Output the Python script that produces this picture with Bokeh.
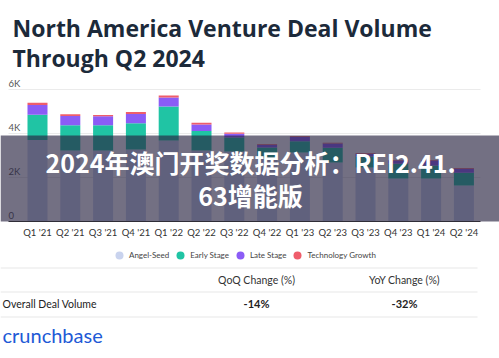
import math
from bokeh.plotting import figure
from bokeh.layouts import column
from bokeh.models import (Range1d, FixedTicker, Label, BoxAnnotation, Legend, LegendItem,
                          ColumnDataSource)
from bokeh.core.properties import value
from bokeh.embed import file_html
from bokeh.resources import INLINE

# ---------------- data ----------------
quarters = ["Q1 '21", "Q2 '21", "Q3 '21", "Q4 '21", "Q1 '22", "Q2 '22", "Q3 '22",
            "Q4 '22", "Q1 '23", "Q2 '23", "Q3 '23", "Q4 '23", "Q1 '24", "Q2 '24"]
angel_seed = [3.71, 3.23, 3.23, 3.27, 3.68, 3.23, 3.18, 2.86, 3.14, 2.68, 2.45, 1.95, 1.95, 1.64]
early_stage = [1.14, 1.14, 1.14, 1.20, 1.55, 0.88, 0.64, 0.50, 0.51, 0.67, 0.50, 0.67, 0.59, 0.58]
late_stage = [0.44, 0.42, 0.41, 0.42, 0.41, 0.30, 0.17, 0.12, 0.19, 0.20, 0.12, 0.15, 0.23, 0.18]
tech_growth = [0.11, 0.08, 0.06, 0.09, 0.09, 0.08, 0.05, 0.03, 0.04, 0.03, 0.03, 0.03, 0.03, 0.03]
series_names = ["Angel-Seed", "Early Stage", "Late Stage", "Technology Growth"]
series_colors = ["#c9d3ee", "#20c4a4", "#8b5cf6", "#ef5d6b"]
y_ticks = [0, 2, 4, 6]
y_tick_labels = ["0", "2K", "4K", "6K"]

title_lines = ["North America Venture Deal Volume", "Through Q2 2024"]
table_headers = ["QoQ Change (%)", "YoY Change (%)"]
table_row_label = "Overall Deal Volume"
table_values = ["-14%", "-32%"]
overlay_lines = ["2024年澳门开奖数据分析：REI2.41.", "63增能版"]

W = 499
TOP_H, CHART_H, BOT_H = 78, 167, 113
X_START, X_END = -1.128, 14.085          # visible x range (category index units)
PLOT_L, PLOT_R = -0.884, 13.506          # extent of grid / axis line


def bare(height):
    f = figure(width=W, height=height, x_range=Range1d(0, W), y_range=Range1d(0, height),
               output_backend="svg", toolbar_location=None, x_axis_location=None,
               y_axis_location=None, min_border=0)
    f.grid.visible = False
    f.outline_line_color = None
    return f


def lab(fig, x, y, text, **kw):
    fig.add_layout(Label(x=x, y=y, x_units="screen", y_units="screen", text=text, **kw))


# ---------------- title ----------------
top = bare(TOP_H)
for i, line in enumerate(title_lines):
    lab(top, 12, 51 - 30 * i, line, text_font="Open Sans", text_font_size="23px",
        text_font_style="bold", text_color="#1c2a3a", text_align="left",
        text_baseline="alphabetic")

# ---------------- chart ----------------
p = figure(width=W, height=CHART_H, x_range=Range1d(X_START, X_END), y_range=Range1d(0, 6.5),
           output_backend="svg", toolbar_location=None, y_axis_location=None,
           min_border_left=0, min_border_right=0, min_border_top=0, min_border_bottom=24)
p.outline_line_color = None

xs = list(range(len(quarters)))
src = ColumnDataSource(dict(x=xs, a=angel_seed, e=early_stage, l=late_stage, t=tech_growth))

# grid lines limited to the plot extent
p.segment(x0=[PLOT_L] * 3, x1=[PLOT_R] * 3, y0=y_ticks[1:], y1=y_ticks[1:],
          line_color="#ebebeb", line_width=1)

p.vbar_stack(["a", "e", "l", "t"], x="x", width=0.61, source=src,
             color=series_colors, line_color=None)

p.xaxis.ticker = FixedTicker(ticks=xs)
p.xaxis.major_label_overrides = {i: q for i, q in enumerate(quarters)}
p.xaxis.bounds = (PLOT_L, PLOT_R)
p.xaxis.major_tick_line_color = None
p.xaxis.minor_tick_line_color = None
p.xaxis.major_tick_out = 0
p.xaxis.major_tick_in = 0
p.xaxis.minor_tick_out = 0
p.xaxis.axis_line_color = "#333333"
p.xaxis.axis_line_width = 1.2
p.xaxis.major_label_standoff = 5
p.xaxis.major_label_text_font = "Lato"
p.xaxis.major_label_text_font_size = "9.5px"
p.xaxis.major_label_text_color = "#333333"
p.grid.visible = False

p.text(x=[PLOT_L] * len(y_ticks), y=y_ticks, text=y_tick_labels, text_font=value("Lato"),
       text_font_size="9.5px", text_color="#555555", text_align="left",
       text_baseline="alphabetic", y_offset=-6)

# dark overlay band with headline
p.add_layout(BoxAnnotation(bottom=-2, top=86, top_units="screen", bottom_units="screen",
                           fill_color="#282340", fill_alpha=0.65, line_color=None))
for i, line in enumerate(overlay_lines):
    lab(p, 250, 60 - 33 * i, line, text_font="Noto Sans CJK SC", text_font_size="25px",
        text_font_style="bold", text_color="white", text_align="center",
        text_baseline="alphabetic")

# ---------------- legend, table, logo ----------------
bot = bare(BOT_H)
items = []
for name, col in zip(series_names, series_colors):
    r = bot.scatter(x=[math.nan], y=[math.nan], marker="circle", size=8, fill_color=col,
                    line_color=None)
    items.append(LegendItem(label=name, renderers=[r]))
leg = Legend(items=items, orientation="horizontal", location=(109, 93),
             glyph_width=20, glyph_height=20, label_standoff=-3, spacing=1, padding=0,
             margin=0, label_height=20, label_text_font="Lato", label_text_font_size="8px",
             label_text_color="#444444", background_fill_alpha=0, border_line_color=None)
bot.add_layout(leg, "center")

for yy in [91, 67, 42]:
    bot.add_layout(BoxAnnotation(left=0, right=477, bottom=yy - 1, top=yy,
                                 left_units="screen", right_units="screen",
                                 top_units="screen", bottom_units="screen",
                                 fill_color="#e8e8e8", fill_alpha=1, line_color=None))
for cx, h in zip([256, 404], table_headers):
    lab(bot, cx, 79, h, text_font="Lato", text_font_size="10.5px", text_color="#333333",
        text_align="center", text_baseline="alphabetic")
for cx, v in zip([256, 404], table_values):
    lab(bot, cx, 55, v, text_font="Lato", text_font_size="11px", text_font_style="bold",
        text_color="#222222", text_align="center", text_baseline="alphabetic")
lab(bot, 2, 55, table_row_label, text_font="Lato", text_font_size="10.5px",
    text_color="#222222", text_align="left", text_baseline="alphabetic")
lab(bot, 2, 24, "crunchbase", text_font="Lato", text_font_size="20px",
    text_color="#2159d6", text_align="left", text_baseline="alphabetic")

layout = column(top, p, bot, spacing=0)
open("out.html", "w").write(file_html(layout, INLINE))
